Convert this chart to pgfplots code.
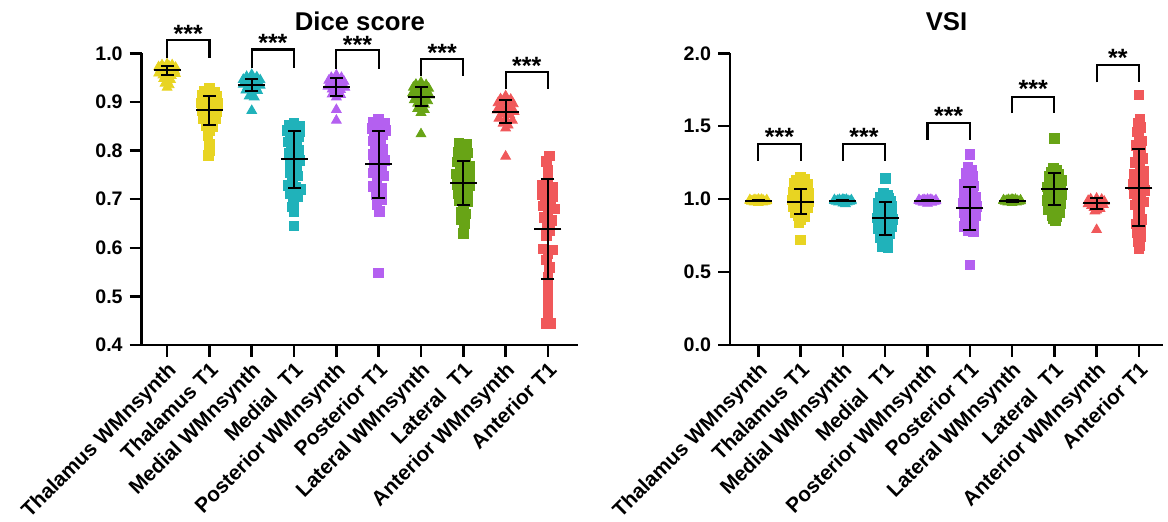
\documentclass[border=0pt]{standalone}
\usepackage{pgfplots}
\pgfplotsset{compat=1.18}
\usepackage{fontspec}
\setmainfont{Liberation Sans}
\definecolor{cy}{RGB}{232,212,34}
\definecolor{ct}{RGB}{32,178,186}
\definecolor{cp}{RGB}{180,96,240}
\definecolor{cg}{RGB}{104,164,22}
\definecolor{cr}{RGB}{240,88,90}
\pgfplotsset{
 tri/.style={only marks, mark=triangle*, mark size=2.8pt},
 sq/.style={only marks, mark=square*, mark size=2.4pt},
 sdbar/.style={black, line width=1pt, sharp plot, mark=none, unbounded coords=jump},
 sdcap/.style={black, only marks, mark=-, mark size=3.25pt, mark options={line width=1pt}},
 mean/.style={black, only marks, mark=-, mark size=6.75pt, mark options={line width=1pt}},
 brk/.style={black, line width=1.1pt, sharp plot, mark=none},
 base/.style={scale only axis, anchor=south west, height=145.85pt, clip=false, clip mode=individual,
   axis lines*=left, axis line style={line width=1.25pt},
   tick align=outside, major tick length=6pt, major tick style={line width=1.25pt, black},
   xtick={0,...,9},
   xticklabels={Thalamus WMnsynth, Thalamus T1, Medial WMnsynth, Medial\ \ T1, Posterior WMnsynth, Posterior T1, Lateral WMnsynth, Lateral\ \ T1, Anterior WMnsynth, Anterior T1},
   xticklabel style={rotate=45, anchor=north east, font=\fontsize{10.4}{11}\selectfont\bfseries, inner sep=1.5pt, yshift=0.5pt},
   yticklabel style={font=\fontsize{9.8}{10}\selectfont\bfseries},
   /pgf/number format/assume math mode=true,
   /pgf/number format/.cd, fixed, fixed zerofill, precision=1}
}
\newcommand{\stars}[3]{\node[font=\fontsize{12.5}{13}\selectfont\bfseries, yshift=-2.7pt] at (axis cs:#1,#2) {#3};}
\begin{document}
\begin{tikzpicture}
\path[use as bounding box] (0,0) rectangle (584pt,261pt);
% ---------------- Dice score ----------------
\begin{axis}[base, at={(70.85pt,88.5pt)}, width=218.15pt,
  xmin=-0.6, xmax=9.71, ymin=0.4, ymax=1.0, ytick={0.4,0.5,...,1.0}]
\addplot[tri, color=cy] coordinates {(0,0.978) (-0.12,0.976) (0.12,0.976) (-0.2,0.972) (0.05,0.973) (0.2,0.971) (-0.06,0.969) (0.14,0.968) (-0.16,0.966) (0,0.965) (0.18,0.964) (-0.1,0.962) (0.08,0.961) (-0.2,0.959) (0.2,0.958) (0,0.957) (-0.1,0.955) (0.1,0.954) (0,0.951) (-0.08,0.948) (0.08,0.946) (0,0.943) (-0.05,0.938) (0.05,0.935) (0,0.93)};
\addplot[sq, color=cy] coordinates {(1,0.928) (0.88,0.922) (1.12,0.921) (0.82,0.914) (1.0,0.915) (1.18,0.912) (0.9,0.906) (1.1,0.905) (0.8,0.898) (1.0,0.899) (1.2,0.897) (0.88,0.89) (1.12,0.889) (0.82,0.882) (1.0,0.883) (1.18,0.881) (0.9,0.874) (1.1,0.873) (0.85,0.866) (1.15,0.865) (1.0,0.86) (0.92,0.851) (1.08,0.849) (1.0,0.84) (0.96,0.83) (1.0,0.812) (1.0,0.8) (0.98,0.79)};
\addplot[tri, color=ct] coordinates {(2,0.956) (1.88,0.952) (2.12,0.951) (1.8,0.946) (2.0,0.947) (2.2,0.945) (1.9,0.941) (2.1,0.94) (1.8,0.936) (2.0,0.936) (2.2,0.934) (1.9,0.931) (2.1,0.93) (2.0,0.926) (1.86,0.924) (2.14,0.923) (2.0,0.918) (1.94,0.912) (2.06,0.91) (2.0,0.882)};
\addplot[sq, color=ct] coordinates {(3,0.857) (2.88,0.852) (3.12,0.85) (2.84,0.842) (3.0,0.843) (3.14,0.838) (2.9,0.83) (3.1,0.828) (2.86,0.818) (3.06,0.816) (2.94,0.806) (3.1,0.8) (2.88,0.794) (3.0,0.788) (3.12,0.78) (2.92,0.772) (3.06,0.765) (2.9,0.755) (3.08,0.748) (2.96,0.738) (2.86,0.728) (3.04,0.725) (3.16,0.72) (2.92,0.712) (3.08,0.706) (2.98,0.696) (2.96,0.684) (3.0,0.675) (3.0,0.645)};
\addplot[tri, color=cp] coordinates {(4,0.955) (3.88,0.95) (4.12,0.95) (3.82,0.944) (4.0,0.944) (4.18,0.942) (3.9,0.938) (4.1,0.937) (3.8,0.932) (4.0,0.932) (4.2,0.93) (3.9,0.926) (4.1,0.925) (4.0,0.92) (3.9,0.916) (4.1,0.915) (4.0,0.91) (4.0,0.884) (4.0,0.862)};
\addplot[sq, color=cp] coordinates {(5,0.864) (4.86,0.858) (5.14,0.856) (4.84,0.846) (5.0,0.848) (5.16,0.842) (4.9,0.834) (5.1,0.832) (4.86,0.82) (5.04,0.818) (4.92,0.806) (5.1,0.802) (4.86,0.792) (5.02,0.79) (5.14,0.78) (4.9,0.772) (5.06,0.764) (4.88,0.754) (5.12,0.748) (4.96,0.738) (4.88,0.726) (5.08,0.722) (4.94,0.71) (5.06,0.7) (4.96,0.688) (5.02,0.675) (5.0,0.548)};
\addplot[tri, color=cg] coordinates {(6,0.94) (5.88,0.936) (6.12,0.935) (5.82,0.93) (6.0,0.93) (6.18,0.928) (5.9,0.924) (6.1,0.922) (5.8,0.918) (6.0,0.916) (6.2,0.914) (5.9,0.91) (6.1,0.909) (5.84,0.904) (6.0,0.903) (6.16,0.902) (5.92,0.897) (6.08,0.895) (6.0,0.89) (5.92,0.886) (6.08,0.884) (6.0,0.878) (6.0,0.834)};
\addplot[sq, color=cg] coordinates {(6.9,0.815) (7.08,0.812) (7.0,0.804) (6.88,0.796) (7.1,0.795) (6.96,0.786) (6.86,0.777) (7.06,0.776) (7.16,0.768) (6.92,0.766) (7.02,0.758) (6.84,0.752) (7.14,0.75) (6.94,0.744) (7.06,0.738) (6.86,0.73) (7.16,0.728) (6.98,0.722) (7.1,0.715) (6.88,0.712) (7.0,0.704) (6.9,0.696) (7.1,0.694) (7.0,0.684) (6.94,0.674) (7.06,0.67) (6.96,0.658) (7.02,0.65) (7.0,0.63)};
\addplot[tri, color=cr] coordinates {(8,0.912) (7.88,0.906) (8.12,0.905) (7.82,0.898) (8.0,0.898) (8.18,0.896) (7.9,0.89) (8.1,0.889) (7.8,0.883) (8.0,0.882) (8.2,0.88) (7.9,0.875) (8.1,0.873) (7.84,0.866) (8.0,0.865) (8.16,0.862) (7.94,0.856) (8.06,0.852) (8.0,0.846) (8.0,0.788)};
\addplot[sq, color=cr] coordinates {(9.04,0.789) (8.96,0.778) (9.0,0.76) (9.0,0.74) (8.86,0.728) (9.12,0.725) (8.98,0.72) (8.86,0.71) (9.1,0.705) (8.94,0.7) (9.06,0.692) (8.88,0.686) (9.16,0.68) (9.0,0.672) (8.9,0.662) (9.08,0.656) (8.98,0.645) (9.04,0.636) (8.96,0.626) (8.88,0.598) (9.12,0.596) (9.0,0.588) (8.96,0.575) (9.04,0.56) (9.0,0.54) (9.0,0.52) (9.0,0.5) (9.0,0.48) (9.0,0.462) (8.96,0.444) (9.06,0.444)};
% mean +- SD
\addplot[sdbar] coordinates {(0,0.956) (0,0.974) (0,nan) (1,0.853) (1,0.913) (1,nan) (2,0.923) (2,0.947) (2,nan) (3,0.723) (3,0.841) (3,nan) (4,0.912) (4,0.950) (4,nan) (5,0.703) (5,0.841) (5,nan) (6,0.892) (6,0.930) (6,nan) (7,0.688) (7,0.778) (7,nan) (8,0.857) (8,0.903) (8,nan) (9,0.535) (9,0.741)};
\addplot[sdcap] coordinates {(0,0.956) (0,0.974) (1,0.853) (1,0.913) (2,0.923) (2,0.947) (3,0.723) (3,0.841) (4,0.912) (4,0.950) (5,0.703) (5,0.841) (6,0.892) (6,0.930) (7,0.688) (7,0.778) (8,0.857) (8,0.903) (9,0.535) (9,0.741)};
\addplot[mean] coordinates {(0,0.965) (1,0.883) (2,0.935) (3,0.782) (4,0.931) (5,0.772) (6,0.911) (7,0.733) (8,0.880) (9,0.638)};
% brackets
\addplot[brk] coordinates {(0,0.990) (0,1.027) (1,1.027) (1,0.990)};
\addplot[brk] coordinates {(2,0.969) (2,1.008) (3,1.008) (3,0.969)};
\addplot[brk] coordinates {(4,0.968) (4,1.007) (5,1.007) (5,0.968)};
\addplot[brk] coordinates {(6,0.953) (6,0.988) (7,0.988) (7,0.953)};
\addplot[brk] coordinates {(8,0.926) (8,0.962) (9,0.962) (9,0.926)};
\stars{0.5}{1.051}{***}
\stars{2.5}{1.032}{***}
\stars{4.5}{1.029}{***}
\stars{6.5}{1.012}{***}
\stars{8.5}{0.986}{***}
\node[font=\fontsize{12.85}{14}\selectfont\bfseries, yshift=15.8pt] at (rel axis cs:0.5,1) {Dice score};
\end{axis}
% ---------------- VSI ----------------
\begin{axis}[base, at={(365pt,88.5pt)}, width=216.5pt,
  xmin=-0.67, xmax=9.57, ymin=0, ymax=2.0, ytick={0,0.5,...,2.0}]
\addplot[tri, color=cy] coordinates {(-0.2,0.99) (-0.12,0.992) (-0.04,0.99) (0.04,0.993) (0.12,0.99) (0.2,0.988) (-0.16,0.985) (0,0.985) (0.16,0.984) (-0.08,0.996) (0.08,0.997) (-0.1,0.98) (0.1,0.98) (0,0.998) (-0.2,0.995) (0.2,0.994) (0,0.975)};
\addplot[sq, color=cy] coordinates {(1.0,1.15) (0.9,1.13) (1.1,1.14) (0.84,1.11) (1.0,1.1) (1.16,1.1) (0.9,1.08) (1.1,1.07) (0.82,1.05) (1.0,1.04) (1.18,1.04) (0.88,1.02) (1.12,1.01) (0.8,0.995) (0.96,0.99) (1.2,0.985) (0.88,0.97) (1.08,0.965) (0.82,0.95) (1.0,0.945) (1.16,0.94) (0.9,0.925) (1.1,0.92) (0.86,0.905) (1.04,0.9) (0.94,0.885) (1.1,0.88) (1.0,0.86) (0.96,0.84) (1.0,0.72)};
\addplot[tri, color=ct] coordinates {(1.8,0.99) (1.88,0.992) (1.96,0.99) (2.04,0.993) (2.12,0.99) (2.2,0.988) (1.84,0.985) (2,0.985) (2.16,0.984) (1.92,0.996) (2.08,0.997) (1.9,0.98) (2.1,0.98) (2,0.998) (1.8,0.995) (2.2,0.994) (2,0.972) (2.06,0.968)};
\addplot[sq, color=ct] coordinates {(3.0,1.143) (2.96,1.04) (3.06,1.03) (2.88,1.015) (3.08,1.005) (2.94,0.995) (3.12,0.985) (2.84,0.975) (3.0,0.97) (2.9,0.955) (3.14,0.95) (3.04,0.94) (2.84,0.93) (2.96,0.92) (3.16,0.91) (2.88,0.895) (3.06,0.885) (2.8,0.87) (2.96,0.865) (3.18,0.86) (2.86,0.845) (3.08,0.835) (2.92,0.82) (3.14,0.81) (2.84,0.8) (3.02,0.79) (2.9,0.775) (3.1,0.765) (2.96,0.75) (2.88,0.735) (3.06,0.725) (2.94,0.705) (3.04,0.69) (2.92,0.675) (3.06,0.665)};
\addplot[tri, color=cp] coordinates {(3.8,0.99) (3.88,0.992) (3.96,0.99) (4.04,0.993) (4.12,0.99) (4.2,0.988) (3.84,0.985) (4,0.985) (4.16,0.984) (3.92,0.996) (4.08,0.997) (3.9,0.978) (4.1,0.978) (4,0.998) (3.8,0.995) (4.2,0.994) (4,0.97)};
\addplot[sq, color=cp] coordinates {(5.0,1.305) (4.96,1.22) (5.04,1.2) (4.92,1.175) (5.06,1.16) (4.98,1.13) (4.88,1.1) (5.1,1.09) (4.94,1.07) (5.06,1.05) (4.86,1.03) (5.0,1.02) (5.14,1.01) (4.9,0.995) (5.06,0.985) (4.84,0.97) (5.0,0.96) (5.16,0.95) (4.92,0.935) (5.08,0.925) (4.86,0.91) (5.02,0.9) (5.14,0.885) (4.9,0.87) (5.06,0.86) (4.94,0.84) (5.1,0.83) (4.88,0.815) (5.02,0.8) (4.96,0.785) (5.08,0.775) (5.0,0.55)};
\addplot[tri, color=cg] coordinates {(5.8,0.99) (5.88,0.992) (5.96,0.99) (6.04,0.993) (6.12,0.99) (6.2,0.988) (5.84,0.985) (6,0.985) (6.16,0.984) (5.92,0.996) (6.08,0.997) (5.9,0.98) (6.1,0.98) (6,0.998) (5.8,0.994) (6.2,0.993) (6,0.975)};
\addplot[sq, color=cg] coordinates {(7.0,1.417) (6.98,1.215) (7.06,1.2) (6.92,1.185) (7.1,1.17) (6.88,1.155) (7.04,1.145) (7.16,1.13) (6.9,1.12) (7.0,1.11) (7.14,1.095) (6.84,1.085) (6.98,1.075) (7.12,1.065) (6.86,1.05) (7.02,1.04) (7.16,1.03) (6.9,1.015) (7.06,1.005) (6.84,0.99) (7.0,0.98) (7.14,0.97) (6.9,0.955) (7.06,0.945) (6.86,0.93) (7.02,0.92) (7.12,0.905) (6.94,0.89) (7.06,0.88) (6.98,0.865) (7.02,0.85)};
\addplot[tri, color=cr] coordinates {(8.0,1.005) (7.86,1.0) (8.12,0.998) (7.8,0.99) (8.0,0.99) (8.18,0.985) (7.9,0.978) (8.08,0.975) (7.8,0.968) (7.96,0.965) (8.16,0.962) (7.88,0.955) (8.06,0.95) (7.94,0.942) (8.08,0.935) (8.0,0.925) (7.96,0.918) (8.0,0.79)};
\addplot[sq, color=cr] coordinates {(9.0,1.714) (9.02,1.55) (8.98,1.52) (9.04,1.49) (8.96,1.46) (9.0,1.43) (9.06,1.4) (8.94,1.37) (9.04,1.34) (8.98,1.31) (9.08,1.28) (8.92,1.25) (9.02,1.22) (9.12,1.19) (8.9,1.17) (9.0,1.15) (9.12,1.12) (8.86,1.1) (9.02,1.08) (9.14,1.06) (8.9,1.04) (9.04,1.02) (8.96,1.0) (9.1,0.98) (8.92,0.96) (9.02,0.93) (8.98,0.9) (9.06,0.86) (8.94,0.83) (9.04,0.8) (8.96,0.77) (9.04,0.74) (8.98,0.71) (9.02,0.68) (9.0,0.66)};
\addplot[sdbar] coordinates {(0,0.986) (0,0.994) (0,nan) (1,0.896) (1,1.070) (1,nan) (2,0.986) (2,0.994) (2,nan) (3,0.757) (3,0.981) (3,nan) (4,0.986) (4,0.994) (4,nan) (5,0.789) (5,1.085) (5,nan) (6,0.983) (6,0.991) (6,nan) (7,0.963) (7,1.177) (7,nan) (8,0.931) (8,1.011) (8,nan) (9,0.816) (9,1.342)};
\addplot[sdcap] coordinates {(0,0.986) (0,0.994) (1,0.896) (1,1.070) (2,0.986) (2,0.994) (3,0.757) (3,0.981) (4,0.986) (4,0.994) (5,0.789) (5,1.085) (6,0.983) (6,0.991) (7,0.963) (7,1.177) (8,0.931) (8,1.011) (9,0.816) (9,1.342)};
\addplot[mean] coordinates {(0,0.990) (1,0.983) (2,0.990) (3,0.869) (4,0.990) (5,0.937) (6,0.987) (7,1.070) (8,0.971) (9,1.079)};
\addplot[brk] coordinates {(0,1.264) (0,1.378) (1,1.378) (1,1.264)};
\addplot[brk] coordinates {(2,1.264) (2,1.378) (3,1.378) (3,1.264)};
\addplot[brk] coordinates {(4,1.406) (4,1.520) (5,1.520) (5,1.406)};
\addplot[brk] coordinates {(6,1.589) (6,1.703) (7,1.703) (7,1.589)};
\addplot[brk] coordinates {(8,1.800) (8,1.920) (9,1.920) (9,1.800)};
\stars{0.5}{1.467}{***}
\stars{2.5}{1.467}{***}
\stars{4.5}{1.607}{***}
\stars{6.5}{1.790}{***}
\stars{8.5}{2.005}{**}
\node[font=\fontsize{12.85}{14}\selectfont\bfseries, yshift=15.8pt] at (rel axis cs:0.5,1) {VSI};
\end{axis}
\end{tikzpicture}
\end{document}
